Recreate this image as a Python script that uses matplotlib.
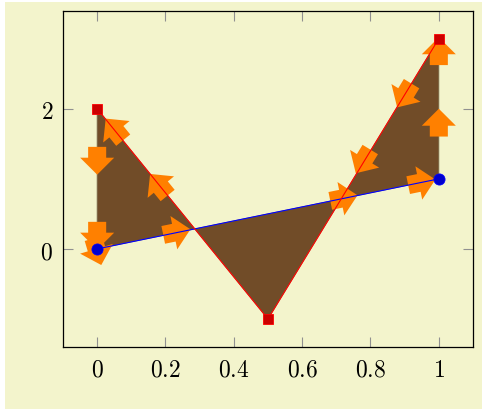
"""Fill between a red and a blue line, with orange arrows along the fill boundary."""

import matplotlib

matplotlib.use("Agg")
import matplotlib.pyplot as plt  # noqa: E402
import numpy as np  # noqa: E402
from matplotlib.patches import Rectangle  # noqa: E402

# data
blue_x = [0.0, 1.0]
blue_y = [0.0, 1.0]
red_x = [0.0, 0.5, 1.0]
red_y = [2.0, -1.0, 3.0]

# arrows along the fill boundary: tip position and direction (data units)
arrow_tip_x = [0.0, 0.0, 0.012, 0.025, 0.155, 0.273, 0.762, 0.757, 0.878, 1.0, 1.0, 0.99]
arrow_tip_y = [1.06, -0.01, -0.23, 1.86, 1.07, 0.28, 0.765, 1.08, 2.02, 2.0, 3.02, 0.99]
arrow_dx = [0.0, 0.0, 0.0235, -0.5, -0.5, 1.0, 1.0, -0.5, -0.5, 0.0, 0.0, 1.0]
arrow_dy = [-1.0, -1.0, -0.386, 3.0, 3.0, 1.0, 1.0, -4.0, -4.0, 1.0, 1.0, 1.0]

x_ticks = [0, 0.2, 0.4, 0.6, 0.8, 1]
x_tick_labels = ["0", "0.2", "0.4", "0.6", "0.8", "1"]
y_ticks = [0, 2]
y_tick_labels = ["0", "2"]

BG = "#f3f4cc"
BROWN = "#714c28"
ORANGE = "#ff8000"

plt.rcParams["mathtext.fontset"] = "cm"

fig = plt.figure(figsize=(4.82, 4.10), dpi=100)
fig.patch.set_facecolor("white")
fig.patches.append(
    Rectangle((5 / 482, 0), 477 / 482, 407 / 410, transform=fig.transFigure,
              facecolor=BG, edgecolor="none", zorder=-10)
)

ax = fig.add_axes([0.1307, 0.1512, 0.8506, 0.8203])
ax.set_facecolor("none")
ax.set_xlim(-0.1, 1.1)
ax.set_ylim(-1.4, 3.4)

# fill: along blue, then red reversed
fx = list(blue_x) + list(red_x[::-1])
fy = list(blue_y) + list(red_y[::-1])
ax.fill(fx, fy, color=BROWN, lw=0.6, ec="#7a6a4a", zorder=1)

# arrows, oriented in display space
L = 20.0  # points
for tx, ty, dx, dy in zip(arrow_tip_x, arrow_tip_y, arrow_dx, arrow_dy):
    p0 = ax.transData.transform((tx, ty))
    p1 = ax.transData.transform((tx + dx, ty + dy))
    u = (p1 - p0) / np.hypot(*(p1 - p0))
    ax.annotate(
        "", xy=(tx, ty), xycoords="data",
        xytext=(-u[0] * L, -u[1] * L), textcoords="offset points",
        arrowprops=dict(
            arrowstyle="simple,head_length=1.22,head_width=2.45,tail_width=1.3",
            mutation_scale=10, fc=ORANGE, ec="none", shrinkA=0, shrinkB=0,
        ),
        annotation_clip=False, zorder=2,
    )

ax.plot(blue_x, blue_y, color="#0000ff", lw=0.8, marker="o", ms=8,
        mfc="#0000cc", mec="#0000ff", mew=0.6, zorder=3, clip_on=False)
ax.plot(red_x, red_y, color="#ff0000", lw=0.8, marker="s", ms=7.5,
        mfc="#cc0000", mec="#ff0000", mew=0.6, zorder=3, clip_on=False)

ax.set_xticks(x_ticks, labels=[f"${t}$" for t in x_tick_labels])
ax.set_yticks(y_ticks, labels=[f"${t}$" for t in y_tick_labels])
ax.tick_params(direction="in", length=7, width=0.8, color="#909090",
               top=True, right=True, labelsize=17, pad=7)
for s in ax.spines.values():
    s.set_linewidth(0.9)
    s.set_color("black")

fig.savefig("out.png", dpi=100)
